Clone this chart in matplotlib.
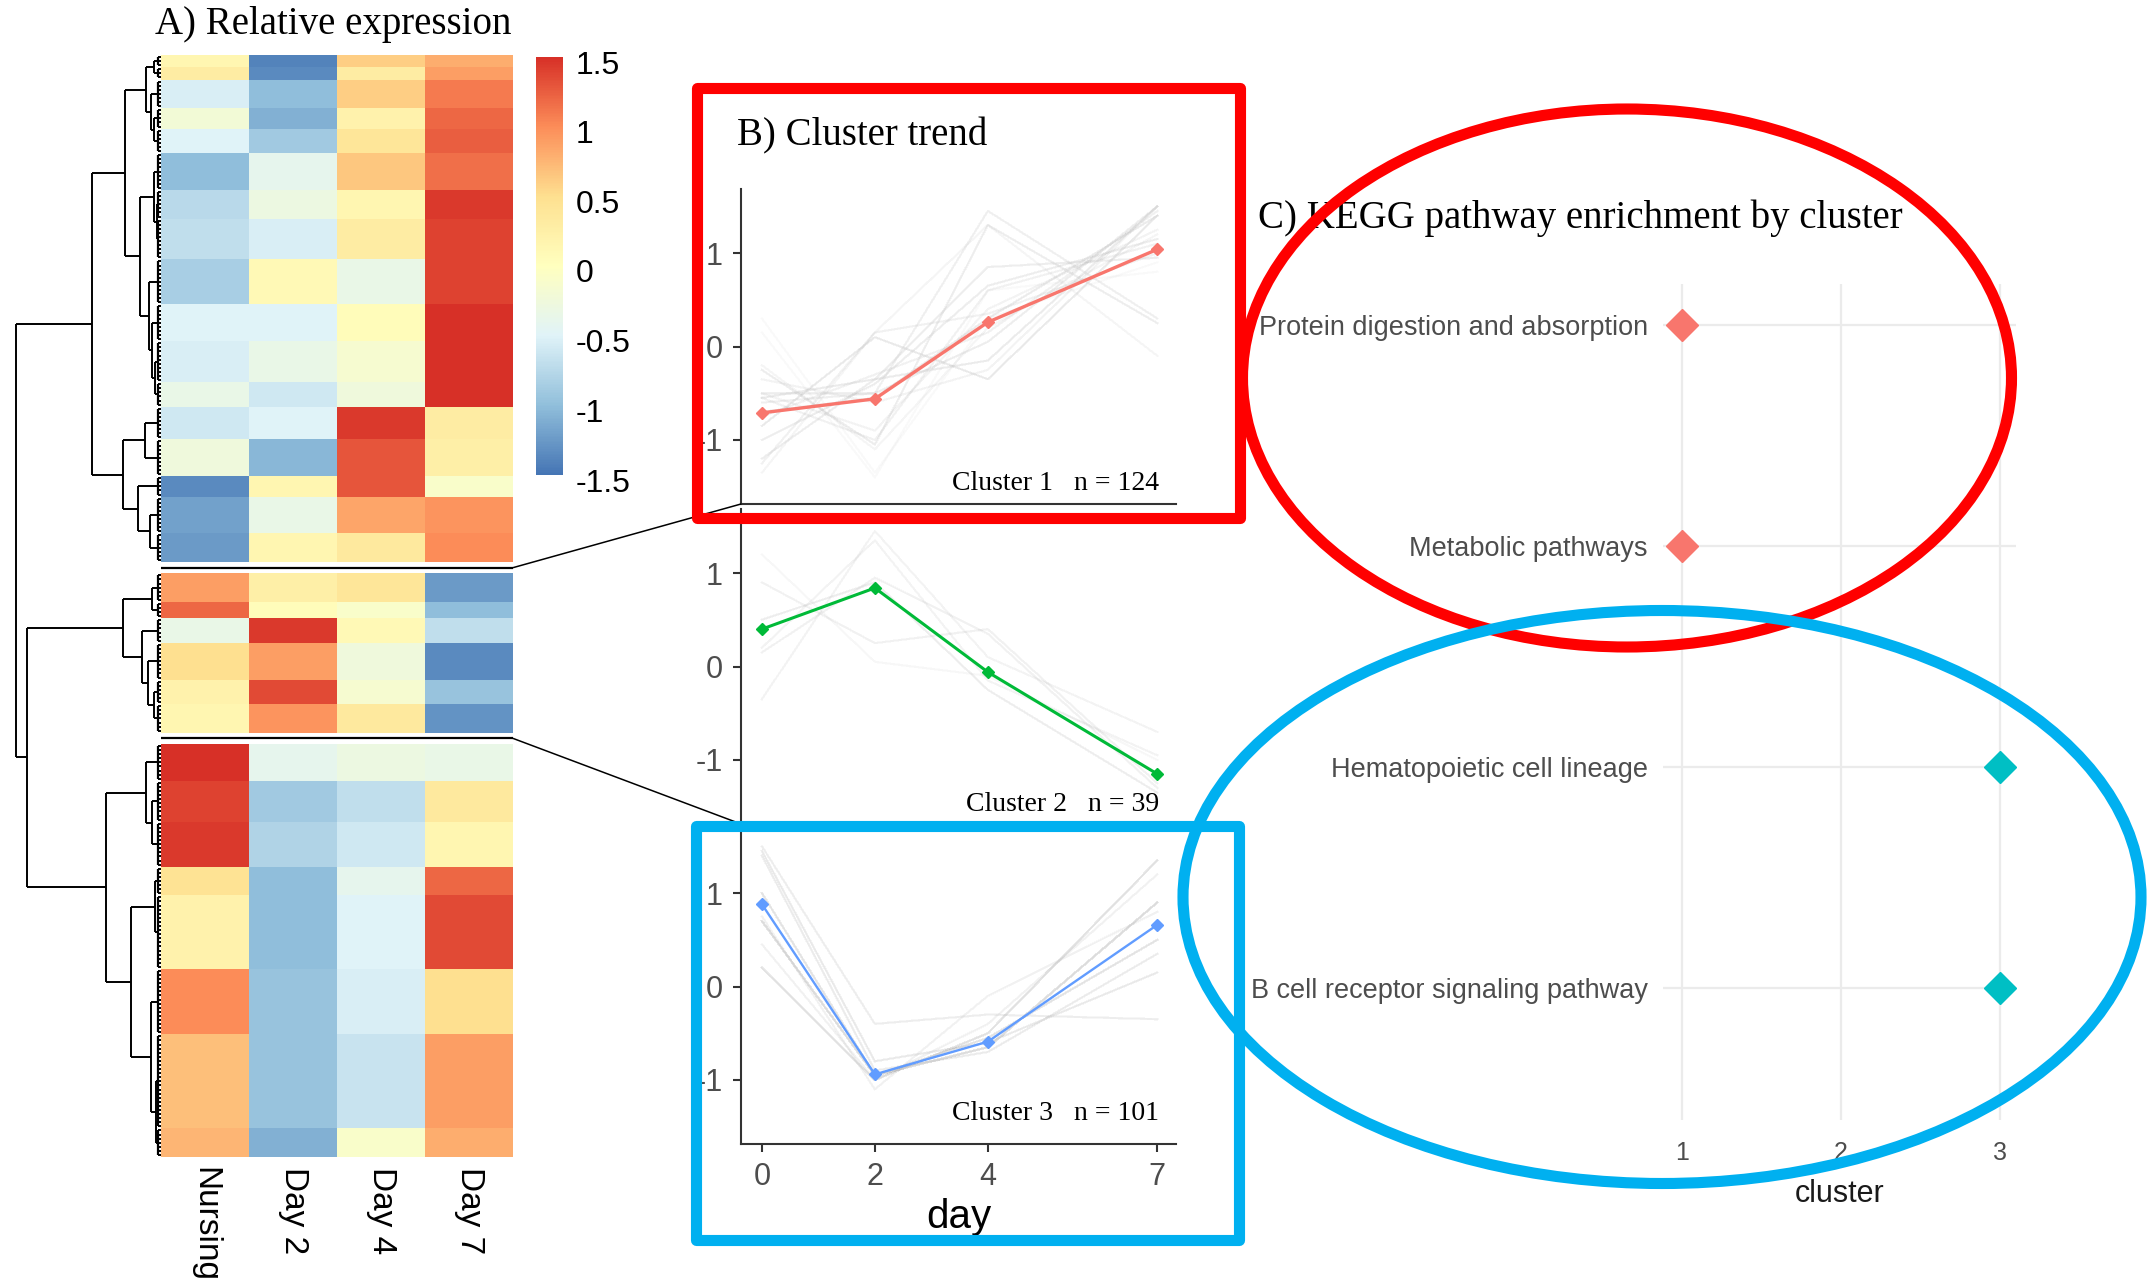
#!/usr/bin/env python3

# Heatmap + cluster trends + KEGG enrichment composite figure
import matplotlib
matplotlib.use("Agg")
import matplotlib.pyplot as plt
import numpy as np
from matplotlib.colors import LinearSegmentedColormap, Normalize
from matplotlib.cm import ScalarMappable
from matplotlib.patches import Rectangle, Ellipse, ConnectionPatch
from matplotlib.transforms import ScaledTranslation

plt.rcParams['font.family'] = ['Liberation Sans', 'DejaVu Sans']
plt.rcParams['axes.unicode_minus'] = False
SERIF = ['Liberation Serif', 'DejaVu Serif']


##########################################################################
# DATA
##########################################################################

samples = ["Nursing", "Day 2", "Day 4", "Day 7"]
days = [0, 2, 4, 7]

# heatmap blocks (rows per block, z-score per sample), top to bottom
c1_rows = [3, 3, 7, 5, 6, 9, 7, 10, 11, 9, 10, 6, 8, 9, 5, 9, 7]
c1_vals = [[0.15, -1.40, 0.60, 0.80],
           [0.30, -1.35, 0.30, 0.90],
           [-0.55, -1.00, 0.60, 1.10],
           [-0.20, -1.10, 0.20, 1.20],
           [-0.50, -0.90, 0.40, 1.25],
           [-1.00, -0.40, 0.65, 1.15],
           [-0.75, -0.30, 0.15, 1.45],
           [-0.70, -0.55, 0.30, 1.40],
           [-0.85, 0.10, -0.35, 1.40],
           [-0.50, -0.50, 0.05, 1.50],
           [-0.55, -0.35, -0.15, 1.50],
           [-0.35, -0.60, -0.25, 1.50],
           [-0.60, -0.50, 1.45, 0.30],
           [-0.25, -1.05, 1.30, 0.25],
           [-1.35, 0.15, 1.30, -0.10],
           [-1.20, -0.35, 0.85, 0.95],
           [-1.25, 0.15, 0.35, 1.00]]

c2_rows = [7, 4, 6, 9, 6, 7]
c2_vals = [[0.90, 0.25, 0.40, -1.25],
           [1.20, 0.05, -0.10, -1.00],
           [-0.35, 1.45, 0.10, -0.70],
           [0.50, 0.90, -0.25, -1.35],
           [0.20, 1.35, -0.15, -0.95],
           [0.15, 0.95, 0.35, -1.30]]

c3_rows = [9, 10, 11, 7, 18, 16, 23, 7]
c3_vals = [[1.50, -0.40, -0.30, -0.35],
           [1.40, -0.90, -0.70, 0.35],
           [1.45, -0.80, -0.60, 0.15],
           [0.45, -1.00, -0.40, 1.20],
           [0.20, -1.00, -0.50, 1.35],
           [1.00, -0.95, -0.55, 0.50],
           [0.70, -0.95, -0.65, 0.90],
           [0.75, -1.10, -0.10, 0.80]]

# row dendrogram: (height, left, right), leaves are block numbers
dendro_tree = (10.0,
               (4.79,
                (2.48,
                 (1.03, (0.45, 0, 1), (0.70, 2, (0.50, 3, 4))),
                 (1.45, (0.48, 5, (0.30, 6, 7)),
                  (0.83, 8, (0.60, 9, (0.40, 10, 11))))),
                (2.62, (1.10, 12, 13), (1.62, 14, (0.76, 15, 16)))),
               (9.24,
                (2.62, (0.62, 17, 18),
                 (1.31, 19, (0.90, 20, (0.50, 21, 22)))),
                (3.79, (1.03, 23, (0.62, 24, 25)),
                 (2.07, (0.41, 26, 27), (0.69, 28, (0.34, 29, 30))))))

# mean trend per cluster
trend_c1 = [-0.71, -0.56, 0.26, 1.04]
trend_c2 = [0.40, 0.84, -0.06, -1.15]
trend_c3 = [0.88, -0.94, -0.59, 0.66]

cb_ticks = [-1.5, -1, -0.5, 0, 0.5, 1, 1.5]
cb_labels = ["-1.5", "-1", "-0.5", "0", "0.5", "1", "1.5"]

# KEGG enrichment
kegg_terms = ["Protein digestion and absorption", "Metabolic pathways",
              "Hematopoietic cell lineage", "B cell receptor signaling pathway"]
kegg_cluster = [1, 1, 3, 3]


##########################################################################
# STYLE
##########################################################################

W, H = 2152, 1282
heat_colors = ["#4575B4", "#91BFDB", "#E0F3F8", "#FFFFBF",
               "#FEE090", "#FC8D59", "#D73027"]
trend_colors = ["#F8766D", "#00BA38", "#619CFF"]
kegg_colors = {1: "#F8766D", 3: "#00BFC4"}
GAP = 2.75          # gap between heatmap clusters, in rows
COMB = 0.24         # leaf comb height of the dendrogram


def ax_px(fig, x0, y0, x1, y1, **kw):
    # axes placed by pixel box (top-left origin)
    return fig.add_axes([x0 / W, 1 - y1 / H, (x1 - x0) / W, (y1 - y0) / H], **kw)


fig = plt.figure(figsize=(W / 100, H / 100), dpi=100)
cmap = LinearSegmentedColormap.from_list("rdylbu", heat_colors)

clusters = [(c1_rows, c1_vals), (c2_rows, c2_vals), (c3_rows, c3_vals)]
mats = [np.repeat(np.array(v), r, axis=0) for r, v in clusters]

# vertical layout of heatmap rows
offsets = []
block_spans = []
y = 0.0
for rows, _ in clusters:
    offsets.append(y)
    for r in rows:
        block_spans.append((y, y + r))
        y += r
    y += GAP
total = y - GAP
seps = [offsets[1] - GAP / 2, offsets[2] - GAP / 2]


##########################################################################
# A) HEATMAP
##########################################################################

ax_hm = ax_px(fig, 161, 55, 513, 1157)
for off, mat in zip(offsets, mats):
    ax_hm.pcolormesh(np.arange(5), off + np.arange(len(mat) + 1), mat,
                     cmap=cmap, vmin=-1.5, vmax=1.5, shading='flat')
ax_hm.set_xlim(0, 4)
ax_hm.set_ylim(total, 0)
for s in ax_hm.spines.values():
    s.set_visible(False)
ax_hm.set_yticks([])
ax_hm.set_xticks(np.arange(4) + 0.5)
ax_hm.set_xticklabels(samples, rotation=270, fontsize=24, va='top', ha='center')
ax_hm.tick_params(axis='x', length=0, pad=7)
ax_hm.hlines(seps, 0, 4, color='black', lw=1.6, clip_on=False)

# dendrogram
ax_d = ax_px(fig, 10, 55, 161, 1157)
ax_d.set_xlim(10.41, 0)
ax_d.set_ylim(total, 0)
ax_d.axis('off')


def draw_node(node):
    if isinstance(node, int):
        a, b = block_spans[node]
        ys = np.arange(a, b) + 0.5
        ax_d.hlines(ys, 0, COMB, color='black', lw=1.4)
        ax_d.vlines(COMB, ys.min(), ys.max(), color='black', lw=1.6)
        return ys.mean(), COMB
    h, left, right = node
    yl, hl = draw_node(left)
    yr, hr = draw_node(right)
    ax_d.hlines([yl, yr], [hl, hr], h, color='black', lw=1.4)
    ax_d.vlines(h, yl, yr, color='black', lw=1.4)
    return (yl + yr) / 2, h


draw_node(dendro_tree)

# colour key
cax = ax_px(fig, 536, 57, 563, 475)
cb = fig.colorbar(ScalarMappable(Normalize(-1.5, 1.5), cmap), cax=cax)
cb.outline.set_visible(False)
cb.set_ticks(cb_ticks)
cb.set_ticklabels(cb_labels)
cax.tick_params(length=0, labelsize=23, pad=9)
for lbl in cax.get_yticklabels():
    lbl.set_transform(lbl.get_transform() + ScaledTranslation(0, -0.05, fig.dpi_scale_trans))

fig.text(333 / W, 1 - 34 / H, "A) Relative expression", ha='center',
         va='baseline', fontsize=28, family=SERIF)


##########################################################################
# B) CLUSTER TRENDS
##########################################################################

trends = [trend_c1, trend_c2, trend_c3]
boxes = [(189, 504), (509, 824), (829, 1144)]
label_y = [0.044, 0.041, 0.076]
widths = [2.4, 2.2, 1.7]
axes_b = []
for k in range(3):
    ax = ax_px(fig, 741, boxes[k][0], 1176, boxes[k][1])
    axes_b.append(ax)
    ax.plot(days, mats[k].T, color='#B4B4B4', alpha=0.018, lw=1.4)
    ax.plot(days, trends[k], color=trend_colors[k], lw=widths[k],
            marker='D', ms=6)
    ax.set_xlim(-0.37, 7.33)
    ax.set_ylim(-1.685, 1.685)
    ax.set_yticks([-1, 0, 1])
    ax.set_xticks(days)
    for side in ['top', 'right']:
        ax.spines[side].set_visible(False)
    for side in ['left', 'bottom']:
        ax.spines[side].set_linewidth(1.5)
        ax.spines[side].set_color('#333333')
    ax.tick_params(length=6, width=1.5, color='#333333', labelsize=22,
                   labelcolor='#4D4D4D', pad=7)
    if k < 2:
        ax.tick_params(axis='x', bottom=False, labelbottom=False)
    ax.patch.set_alpha(0)
    ax.text(0.961, label_y[k], "Cluster %d   n = %d" % (k + 1, len(mats[k])),
            transform=ax.transAxes, ha='right', va='baseline', fontsize=20,
            family=SERIF)
axes_b[2].set_xlabel("day", fontsize=29, labelpad=4)

fig.text(737 / W, 1 - 145 / H, "B) Cluster trend", ha='left',
         va='baseline', fontsize=28, family=SERIF)

# connectors from heatmap cluster breaks to the trend panels
for k in range(2):
    fig.add_artist(ConnectionPatch(xyA=(4, seps[k]), coordsA=ax_hm.transData,
                                   xyB=(0, 0), coordsB=axes_b[k].transAxes,
                                   color='black', lw=1.1))


##########################################################################
# C) KEGG ENRICHMENT
##########################################################################

ax_c = ax_px(fig, 1663, 284, 2016, 1120)
ypos = np.arange(len(kegg_terms), 0, -1)
for xc, yc in zip(kegg_cluster, ypos):
    ax_c.plot(xc, yc, marker='D', ms=16, color=kegg_colors[xc], ls='none')
ax_c.set_xlim(0.88, 3.10)
ax_c.set_ylim(0.404, 4.185)
ax_c.set_xticks([1, 2, 3])
ax_c.set_yticks(ypos)
ax_c.set_yticklabels(kegg_terms)
ax_c.grid(color='#EBEBEB', lw=1.6)
ax_c.set_axisbelow(True)
for s in ax_c.spines.values():
    s.set_visible(False)
ax_c.tick_params(axis='y', length=0, labelsize=19.5, labelcolor='#4D4D4D', pad=11)
ax_c.tick_params(axis='x', length=0, labelsize=18, labelcolor='#4D4D4D', pad=15)
ax_c.set_xlabel("cluster", fontsize=22, color='#1A1A1A', labelpad=10)

fig.text(1258 / W, 1 - 228 / H, "C) KEGG pathway enrichment by cluster",
         ha='left', va='baseline', fontsize=28, family=SERIF)


##########################################################################
# HIGHLIGHT SHAPES
##########################################################################

ax_o = fig.add_axes([0, 0, 1, 1], zorder=20)
ax_o.set_xlim(0, W)
ax_o.set_ylim(H, 0)
ax_o.axis('off')
ax_o.add_patch(Rectangle((697, 88), 543, 430, fill=False, ec='#FF0000',
                         lw=8, joinstyle='round'))
ax_o.add_patch(Rectangle((696, 826), 543, 414, fill=False, ec='#00B0F0',
                         lw=8, joinstyle='round'))
ax_o.add_patch(Ellipse((1627, 378), 769, 538, fill=False, ec='#FF0000', lw=8))
ax_o.add_patch(Ellipse((1662, 897), 958, 573, fill=False, ec='#00B0F0', lw=8))

fig.savefig("out.png", dpi=100)
